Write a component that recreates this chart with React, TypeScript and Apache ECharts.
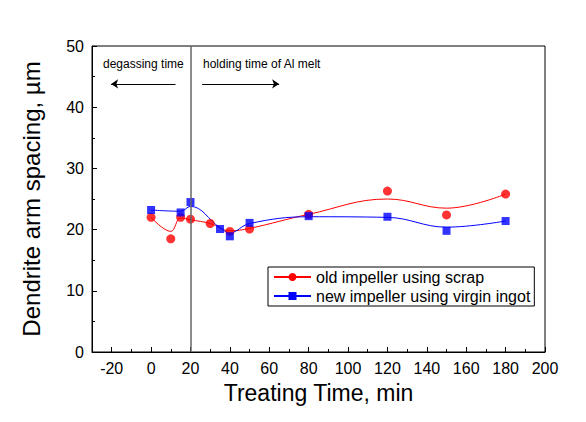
import React, { useEffect, useRef } from "react";
import * as echarts from "echarts";

const redX = [0, 10, 15, 20, 30, 40, 50, 80, 120, 150, 180];
const redY = [22.0, 18.5, 22.0, 21.7, 21.0, 19.7, 20.1, 22.5, 26.3, 22.4, 25.8];
const redCurveY = [22.0, 19.7, 21.9, 21.6, 21.0, 19.8, 20.2, 22.5, 25.0, 23.5, 25.8];

const blueX = [0, 15, 20, 35, 40, 50, 80, 120, 150, 180];
const blueY = [23.2, 22.8, 24.5, 20.1, 18.9, 21.1, 22.2, 22.1, 19.8, 21.4];
const blueCurveY = [23.2, 23.0, 23.8, 20.3, 19.5, 21.0, 22.1, 22.0, 20.4, 21.4];

const xMajorTicks = [-20, 0, 20, 40, 60, 80, 100, 120, 140, 160, 180, 200];
const xMinorTicks = [-10, 10, 30, 50, 70, 90, 110, 130, 150, 170, 190];

const dividerX = 20;
const arrowY = 43.8;
const leftArrow = [12.4, -20.3];
const rightArrow = [25.9, 65];

const redName = "old impeller using scrap";
const blueName = "new impeller using virgin ingot";

const FONT = "'Liberation Sans', Arial, sans-serif";

export default function App() {
  const ref = useRef<HTMLDivElement>(null);
  useEffect(() => {
    const chart = echarts.init(ref.current!, null, { renderer: "svg" });
    const zip = (xs: number[], ys: number[]) => xs.map((x, i) => [x, ys[i]]);
    chart.setOption({
      animation: false,
      textStyle: { fontFamily: FONT },
      grid: {
        left: 92,
        right: 41,
        top: 46,
        bottom: 70,
        show: true,
        borderColor: "#000",
        borderWidth: 1,
      },
      legend: {
        orient: "vertical",
        left: 268,
        top: 267,
        borderColor: "#000",
        borderWidth: 1,
        padding: [1, 4, 1, 5],
        itemGap: 1,
        itemWidth: 37,
        itemHeight: 10,
        textStyle: { fontSize: 16, color: "#000", fontFamily: FONT, lineHeight: 18 },
        data: [redName, blueName],
      },
      graphic: [
        {
          type: "text",
          left: 103,
          top: 58,
          style: { text: "degassing time", fontSize: 12, fill: "#000", fontFamily: FONT },
        },
        {
          type: "text",
          left: 203,
          top: 58,
          style: { text: "holding time of Al melt", fontSize: 12, fill: "#000", fontFamily: FONT },
        },
      ],
      xAxis: [
        {
          type: "value",
          min: -30,
          max: 200,
          name: "Treating Time, min",
          nameLocation: "middle",
          nameGap: 29,
          nameTextStyle: { fontSize: 23, color: "#000", fontFamily: FONT },
          splitLine: { show: false },
          axisLine: { onZero: false, lineStyle: { color: "#000", width: 1 } },
          axisTick: { show: true, inside: true, length: 5, customValues: xMajorTicks, lineStyle: { color: "#000" } },
          axisLabel: { customValues: xMajorTicks, fontSize: 16, color: "#000", margin: 8, fontFamily: FONT },
        },
        {
          type: "value",
          min: -30,
          max: 200,
          position: "bottom",
          splitLine: { show: false },
          axisLine: { show: false, onZero: false },
          axisTick: { show: true, inside: true, length: 3, customValues: xMinorTicks, lineStyle: { color: "#000" } },
          axisLabel: { show: false },
        },
      ],
      yAxis: {
        type: "value",
        min: 0,
        max: 50,
        interval: 10,
        name: "Dendrite arm spacing, \u00b5m",
        nameLocation: "middle",
        nameGap: 49,
        nameTextStyle: { fontSize: 24, color: "#000", fontFamily: FONT },
        splitLine: { show: false },
        axisLine: { show: true, onZero: false, lineStyle: { color: "#000", width: 1 } },
        axisTick: { show: true, inside: true, length: 5, lineStyle: { color: "#000" } },
        minorTick: { show: true, splitNumber: 2, length: 3, lineStyle: { color: "#000" } },
        axisLabel: { fontSize: 16, color: "#000", margin: 8, fontFamily: FONT },
      },
      series: [
        {
          name: redName,
          type: "line",
          data: zip(redX, redCurveY),
          smooth: 0.4,
          showSymbol: false,
          symbol: "circle",
          symbolSize: 9,
          itemStyle: { color: "#ff0000" },
          lineStyle: { color: "#ff0000", width: 1 },
          z: 2,
          markLine: {
            silent: true,
            symbol: "none",
            label: { show: false },
            lineStyle: { color: "#666", width: 1.5, type: "solid" },
            data: [
              { xAxis: dividerX },
              [
                { coord: [leftArrow[0], arrowY], symbol: "none", lineStyle: { color: "#000", width: 1 } },
                { coord: [leftArrow[1], arrowY], symbol: "arrow", symbolSize: 7 },
              ],
              [
                { coord: [rightArrow[0], arrowY], symbol: "none", lineStyle: { color: "#000", width: 1 } },
                { coord: [rightArrow[1], arrowY], symbol: "arrow", symbolSize: 7 },
              ],
            ],
          },
        },
        {
          name: blueName,
          type: "line",
          data: zip(blueX, blueCurveY),
          smooth: 0.4,
          showSymbol: false,
          symbol: "rect",
          symbolSize: 9,
          itemStyle: { color: "#0000ff" },
          lineStyle: { color: "#0000ff", width: 1 },
          z: 2,
        },
        {
          name: redName,
          type: "scatter",
          data: zip(redX, redY),
          symbol: "circle",
          symbolSize: 9,
          itemStyle: { color: "#ff0000" },
          z: 3,
        },
        {
          name: blueName,
          type: "scatter",
          data: zip(blueX, blueY),
          symbol: "rect",
          symbolSize: 8,
          itemStyle: { color: "#0000ff" },
          z: 4,
        },
      ],
    });
    return () => chart.dispose();
  }, []);
  return (
    <div
      ref={ref}
      style={{ position: "fixed", left: 0, top: 0, width: 586, height: 422, background: "#fff" }}
    />
  );
}
